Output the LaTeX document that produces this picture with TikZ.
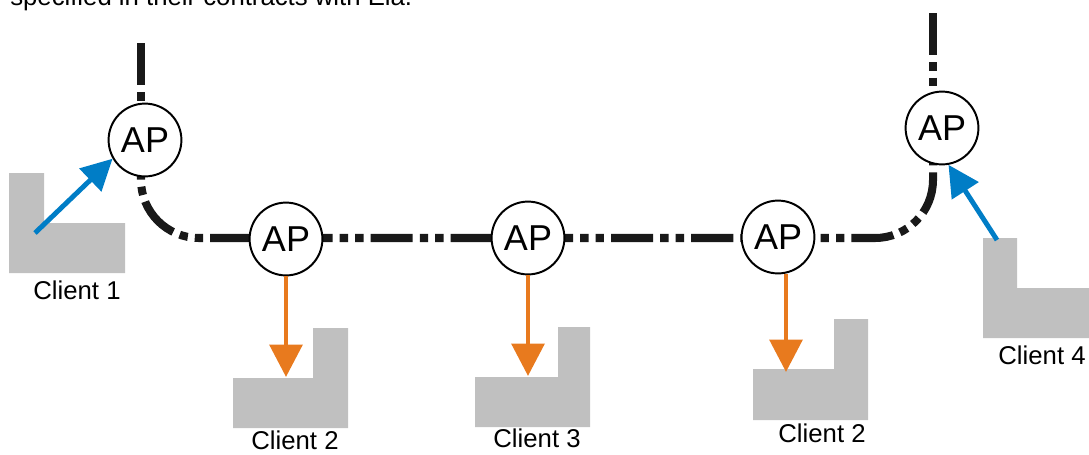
\documentclass[tikz,border=0pt]{standalone}
\usepackage{fontspec}
\setmainfont{Liberation Sans}
\usepackage{xcolor}
\definecolor{uplinkblue}{RGB}{0,125,198}
\definecolor{downorange}{RGB}{232,122,30}
\definecolor{boxgray}{RGB}{192,192,192}
\usetikzlibrary{arrows.meta}
\usetikzlibrary{backgrounds}
\tikzset{>=stealth}
\tikzset{%
    apnode/.style={circle,draw=black,line width=1.4pt,fill=white,
        minimum size=1.82cm,inner sep=0pt,font=\fontsize{25.6}{30}\selectfont},
    clientbox/.style={fill=boxgray,draw=none},
    clientlabel/.style={anchor=base,inner sep=0pt,font=\fontsize{18.3}{22}\selectfont},
    backbone/.style={line width=5.7pt,black!90,
        dash pattern=on 30pt off 5pt on 6pt off 5pt on 6pt off 5pt},
    uplink/.style={line width=3.5pt,uplinkblue,-{Triangle[width=22pt,length=22pt]}},
    downlink/.style={line width=3.5pt,downorange,-{Triangle[width=23pt,length=23pt]}}
}

\begin{document}
\begin{tikzpicture}[x=0.025cm,y=-0.025cm]
    \useasboundingbox (0,0) rectangle (1089,454);
    \node[anchor=base west,inner sep=0pt,font=\fontsize{18.3}{22}\selectfont](topline) at (10,5) {specified in their contracts with Ela.};
%   clients
    \fill[clientbox] (9,173) -- (44,173) -- (44,223) -- (125,223) -- (125,273) -- (9,273) -- cycle;
    \fill[clientbox] (233,378) -- (313,378) -- (313,328) -- (348,328) -- (348,428) -- (233,428) -- cycle;
    \fill[clientbox] (475,377) -- (558,377) -- (558,327) -- (590,327) -- (590,427) -- (475,427) -- cycle;
    \fill[clientbox] (753,369) -- (834,369) -- (834,319) -- (868,319) -- (868,420) -- (753,420) -- cycle;
    \fill[clientbox] (983,238) -- (1017,238) -- (1017,288) -- (1095,288) -- (1095,338) -- (983,338) -- cycle;
    \node[clientlabel](cl1) at (77,299) {Client 1};
    \node[clientlabel](cl2) at (295,449) {Client 2};
    \node[clientlabel](cl3) at (537,447) {Client 3};
    \node[clientlabel](cl5) at (822,442) {Client 2};
    \node[clientlabel](cl4) at (1042,364) {Client 4};
%   access points
    \node[apnode](AP1) at (145,140) {AP};
    \node[apnode](AP2) at (286,239) {AP};
    \node[apnode](AP3) at (528,238) {AP};
    \node[apnode](AP4) at (778,237) {AP};
    \node[apnode](AP5) at (942,128) {AP};
    \coordinate (top1) at (141,43);
    \coordinate (top5) at (933,13);
    \coordinate (bbL) at (141,140);
    \coordinate (bbR) at (933,128);
    \begin{scope}[on background layer]
        \draw[backbone] (top1) -- (top1 |- AP1);
        \draw[backbone] (top5) -- (top5 |- AP5);
        \draw[backbone,rounded corners=1.45cm,dash phase=12.8pt] (bbL) |- (bbR |- AP3) -- (bbR);
    \end{scope}
%   links
    \coordinate (c1out) at (35,233);
    \coordinate (c4out) at (997,240);
    \coordinate (c2in) at (286,377);
    \coordinate (c3in) at (528,376);
    \coordinate (c5in) at (786,372);
    \draw[uplink] (c1out) -- (AP1.210);
    \draw[uplink] (c4out) -- (AP5.-80);
    \draw[downlink] (AP2) -- (c2in);
    \draw[downlink] (AP3) -- (c3in);
    \draw[downlink] (AP4.south -| c5in) -- (c5in);
\end{tikzpicture}
\end{document}
